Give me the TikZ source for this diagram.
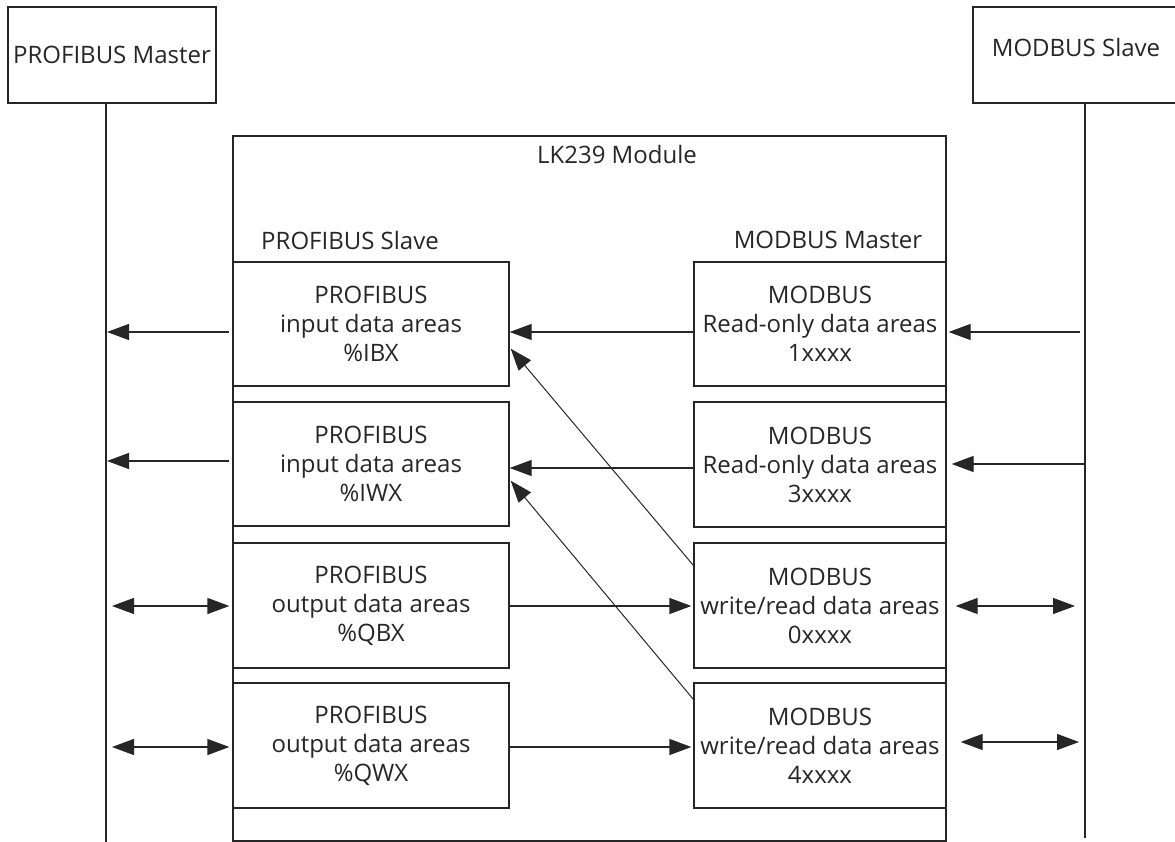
\documentclass[tikz,border=0pt]{standalone}
\usepackage{fontspec}
\setmainfont{Open Sans}
\usetikzlibrary{arrows.meta,calc}
\begin{document}
\begin{tikzpicture}[x=1pt,y=-1pt,
  ln/.style={draw=black!85, line width=1.3pt},
  txt/.style={text=black!85, font=\fontsize{24}{29}\selectfont},
  box/.style={ln, txt, rectangle, inner sep=0pt, align=center},
  lbl/.style={txt, inner sep=0pt},
  tip/.tip={Triangle[length=22pt,width=16pt]},
  arr/.style={ln, -tip},
  dbl/.style={ln, tip-tip},
  slim/.style={draw=black!85, line width=1pt, -tip}]
\useasboundingbox (0,0) rectangle (1175,842);
\begin{scope}
\clip (0,0) rectangle (1175,842);
% outer parties
\node[box, minimum width=208pt, minimum height=96pt] (pm) at (112,55) {PROFIBUS Master};
\node[box, minimum width=210pt, minimum height=96pt] (ms) at (1078,55) {};
\node[lbl] (mstxt) at (1076,48) {MODBUS Slave};
% module
\node[box, minimum width=713pt, minimum height=705pt] (lk) at (589.5,488.5) {};
\node[lbl] (lktxt) at (617,155) {LK239 Module};
\node[lbl] (pstxt) at (350,241) {PROFIBUS Slave};
\node[lbl] (mmtxt) at (828,240) {MODBUS Master};
% PROFIBUS areas
\node[box, minimum width=276pt, minimum height=124pt] (pb1) at (371,324) {PROFIBUS\\input data areas\\\%IBX};
\node[box, minimum width=276pt, minimum height=124pt] (pb2) at (371,464) {PROFIBUS\\input data areas\\\%IWX};
\node[box, minimum width=276pt, minimum height=125pt] (pb3) at (371,605.5) {PROFIBUS\\output data areas\\\%QBX};
\node[box, minimum width=276pt, minimum height=125pt] (pb4) at (371,745.5) {PROFIBUS\\output data areas\\\%QWX};
% MODBUS areas
\node[box, minimum width=252pt, minimum height=124pt] (mb1) at (820,324) {MODBUS\\Read-only data areas\\1xxxx};
\node[box, minimum width=252pt, minimum height=125pt] (mb2) at (820,464.5) {MODBUS\\Read-only data areas\\3xxxx};
\node[box, minimum width=252pt, minimum height=125pt] (mb3) at (820,605.5) {MODBUS\\write/read data areas\\0xxxx};
\node[box, minimum width=252pt, minimum height=125pt] (mb4) at (820,745.5) {MODBUS\\write/read data areas\\4xxxx};
% bus lines
\coordinate (pmend) at (106,842);
\coordinate (msend) at (1085,838);
\draw[ln] (pm.south -| pmend) -- (pmend);
\draw[ln] (ms.south -| msend) -- (msend);
% PROFIBUS side
\coordinate (l1) at (107,332);
\coordinate (l2) at (107,461);
\coordinate (l3) at (112,606);
\coordinate (l4) at (112,747);
\draw[arr] ($(pb1.west |- l1)+(-3,0)$) -- (l1);
\draw[arr] ($(pb2.west |- l2)+(-3,0)$) -- (l2);
\draw[dbl] (l3) -- ($(pb3.west |- l3)+(-3,0)$);
\draw[dbl] (l4) -- ($(pb4.west |- l4)+(-3,0)$);
% inside the module
\coordinate (m2) at (0,468);
\draw[arr] (mb1.west |- l1) -- (pb1.east |- l1);
\draw[arr] (mb2.west |- m2) -- (pb2.east |- m2);
\draw[arr] (pb3.east |- l3) -- ($(mb3.west |- l3)+(-2,0)$);
\draw[arr] (pb4.east |- l4) -- ($(mb4.west |- l4)+(-2,0)$);
\draw[slim] ($(mb3.north west)+(0,23)$) -- ($(pb1.south east)+(1,-38)$);
\draw[slim] ($(mb4.north west)+(0,17)$) -- ($(pb2.south east)+(1,-46)$);
% MODBUS side
\coordinate (r1) at (1080,332);
\coordinate (r2) at (1085,464);
\coordinate (r3) at (1075,606);
\coordinate (r4) at (1079,742);
\draw[arr] (r1) -- ($(mb1.east |- r1)+(2,0)$);
\draw[arr] (r2) -- ($(mb2.east |- r2)+(5,0)$);
\draw[dbl] ($(mb3.east |- r3)+(9,0)$) -- (r3);
\draw[dbl] ($(mb4.east |- r4)+(14,0)$) -- (r4);
\end{scope}
\end{tikzpicture}
\end{document}
